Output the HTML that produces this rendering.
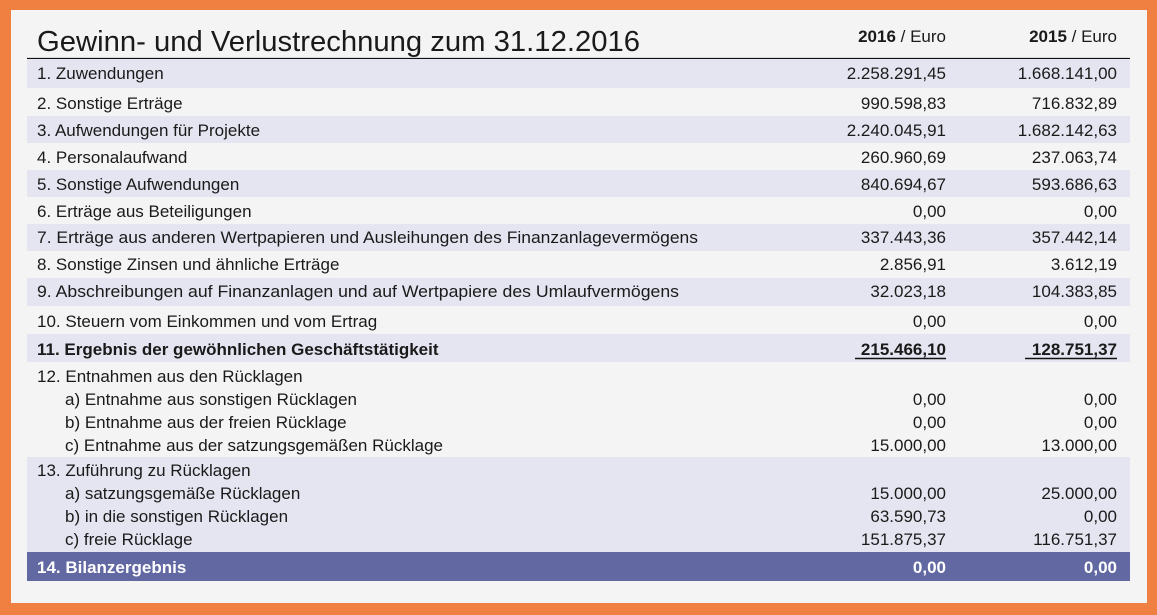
<!DOCTYPE html>
<html><head><meta charset="utf-8"><style>
html,body{margin:0;padding:0;width:1157px;height:615px;overflow:hidden;background:#f08040}
svg{display:block}
text{font-family:"Liberation Sans",sans-serif;font-size:17px;fill:#1a1a1a}
.b{font-weight:bold}
.r{text-anchor:end}
.w{fill:#fff;font-weight:bold}
</style></head><body>
<svg width="1157" height="615" xmlns="http://www.w3.org/2000/svg">
<rect x="0" y="0" width="1157" height="615" fill="#f07f42"/>
<rect x="11" y="10" width="1136" height="593" fill="#f4f4f4"/>
<text x="37" y="51" style="font-size:29px" textLength="603" lengthAdjust="spacingAndGlyphs">Gewinn- und Verlustrechnung zum 31.12.2016</text>
<text x="946" y="42" class="r"><tspan class="b">2016</tspan> / Euro</text>
<text x="1117" y="42" class="r"><tspan class="b">2015</tspan> / Euro</text>
<line x1="27" y1="58.5" x2="1130" y2="58.5" stroke="#111" stroke-width="1.2"/>
<g fill="#e5e5f1">
<rect x="27" y="59" width="1103" height="29"/>
<rect x="27" y="116" width="1103" height="27"/>
<rect x="27" y="170" width="1103" height="27"/>
<rect x="27" y="224" width="1103" height="27"/>
<rect x="27" y="278" width="1103" height="28"/>
<rect x="27" y="334" width="1103" height="28"/>
<rect x="27" y="457" width="1103" height="95"/>
</g>
<rect x="27" y="552" width="1103" height="29" fill="#6168a2"/>
<g>
<text x="37" y="79">1. Zuwendungen</text><text x="946" y="79" class="r">2.258.291,45</text><text x="1117" y="79" class="r">1.668.141,00</text>
<text x="37" y="109">2. Sonstige Erträge</text><text x="946" y="109" class="r">990.598,83</text><text x="1117" y="109" class="r">716.832,89</text>
<text x="37" y="136">3. Aufwendungen für Projekte</text><text x="946" y="136" class="r">2.240.045,91</text><text x="1117" y="136" class="r">1.682.142,63</text>
<text x="37" y="163">4. Personalaufwand</text><text x="946" y="163" class="r">260.960,69</text><text x="1117" y="163" class="r">237.063,74</text>
<text x="37" y="190">5. Sonstige Aufwendungen</text><text x="946" y="190" class="r">840.694,67</text><text x="1117" y="190" class="r">593.686,63</text>
<text x="37" y="217">6. Erträge aus Beteiligungen</text><text x="946" y="217" class="r">0,00</text><text x="1117" y="217" class="r">0,00</text>
<text x="37" y="243" textLength="661" lengthAdjust="spacingAndGlyphs">7. Erträge aus anderen Wertpapieren und Ausleihungen des Finanzanlagevermögens</text><text x="946" y="243" class="r">337.443,36</text><text x="1117" y="243" class="r">357.442,14</text>
<text x="37" y="270">8. Sonstige Zinsen und ähnliche Erträge</text><text x="946" y="270" class="r">2.856,91</text><text x="1117" y="270" class="r">3.612,19</text>
<text x="37" y="297" textLength="642" lengthAdjust="spacingAndGlyphs">9. Abschreibungen auf Finanzanlagen und auf Wertpapiere des Umlaufvermögens</text><text x="946" y="297" class="r">32.023,18</text><text x="1117" y="297" class="r">104.383,85</text>
<text x="37" y="327">10. Steuern vom Einkommen und vom Ertrag</text><text x="946" y="327" class="r">0,00</text><text x="1117" y="327" class="r">0,00</text>
<text x="37" y="355" class="b">11. Ergebnis der gewöhnlichen Geschäftstätigkeit</text><text x="946" y="355" class="r b">215.466,10</text><text x="1117" y="355" class="r b">128.751,37</text>
<line x1="855" y1="358.5" x2="946" y2="358.5" stroke="#111" stroke-width="1.4"/>
<line x1="1025" y1="358.5" x2="1117" y2="358.5" stroke="#111" stroke-width="1.4"/>
<text x="37" y="382">12. Entnahmen aus den Rücklagen</text>
<text x="65" y="405">a) Entnahme aus sonstigen Rücklagen</text><text x="946" y="405" class="r">0,00</text><text x="1117" y="405" class="r">0,00</text>
<text x="65" y="428">b) Entnahme aus der freien Rücklage</text><text x="946" y="428" class="r">0,00</text><text x="1117" y="428" class="r">0,00</text>
<text x="65" y="451">c) Entnahme aus der satzungsgemäßen Rücklage</text><text x="946" y="451" class="r">15.000,00</text><text x="1117" y="451" class="r">13.000,00</text>
<text x="37" y="476">13. Zuführung zu Rücklagen</text>
<text x="65" y="499">a) satzungsgemäße Rücklagen</text><text x="946" y="499" class="r">15.000,00</text><text x="1117" y="499" class="r">25.000,00</text>
<text x="65" y="522">b) in die sonstigen Rücklagen</text><text x="946" y="522" class="r">63.590,73</text><text x="1117" y="522" class="r">0,00</text>
<text x="65" y="545">c) freie Rücklage</text><text x="946" y="545" class="r">151.875,37</text><text x="1117" y="545" class="r">116.751,37</text>
<text x="37" y="573" class="w">14. Bilanzergebnis</text><text x="946" y="573" class="r w">0,00</text><text x="1117" y="573" class="r w">0,00</text>
</g>
</svg>
</body></html>
